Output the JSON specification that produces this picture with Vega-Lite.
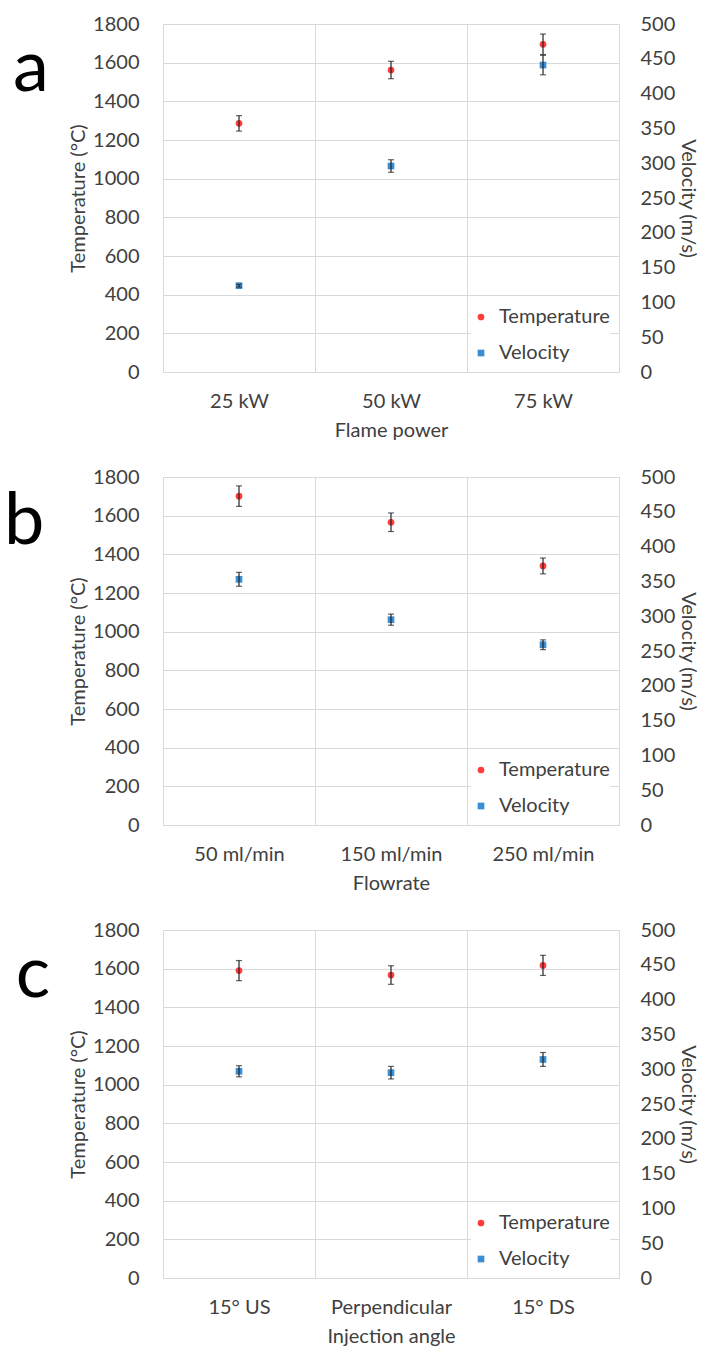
{
  "$schema": "https://vega.github.io/schema/vega-lite/v6.json",
  "padding": {"left": 3, "top": 13, "right": 0, "bottom": 0},
  "background": "white",
  "spacing": 25,
  "datasets": {
    "pts": [
      {"panel": "a", "cat": "25 kW", "series": "Temperature", "value": 1286, "err": 40},
      {"panel": "a", "cat": "50 kW", "series": "Temperature", "value": 1562, "err": 45},
      {"panel": "a", "cat": "75 kW", "series": "Temperature", "value": 1695, "err": 53},
      {"panel": "a", "cat": "25 kW", "series": "Velocity", "value": 124, "err": 2},
      {"panel": "a", "cat": "50 kW", "series": "Velocity", "value": 296, "err": 9},
      {"panel": "a", "cat": "75 kW", "series": "Velocity", "value": 441, "err": 14},
      {"panel": "b", "cat": "50 ml/min", "series": "Temperature", "value": 1701, "err": 53},
      {"panel": "b", "cat": "150 ml/min", "series": "Temperature", "value": 1566, "err": 48},
      {"panel": "b", "cat": "250 ml/min", "series": "Temperature", "value": 1340, "err": 41},
      {"panel": "b", "cat": "50 ml/min", "series": "Velocity", "value": 353, "err": 10},
      {"panel": "b", "cat": "150 ml/min", "series": "Velocity", "value": 295, "err": 8},
      {"panel": "b", "cat": "250 ml/min", "series": "Velocity", "value": 259, "err": 7},
      {"panel": "c", "cat": "15° US", "series": "Temperature", "value": 1590, "err": 52},
      {"panel": "c", "cat": "Perpendicular", "series": "Temperature", "value": 1567, "err": 48},
      {"panel": "c", "cat": "15° DS", "series": "Temperature", "value": 1617, "err": 52},
      {"panel": "c", "cat": "15° US", "series": "Velocity", "value": 297, "err": 8},
      {"panel": "c", "cat": "Perpendicular", "series": "Velocity", "value": 295, "err": 9},
      {"panel": "c", "cat": "15° DS", "series": "Velocity", "value": 314, "err": 10}
    ]
  },
  "data": {"name": "pts"},
  "vconcat": [
    {
      "title": {"text": "a"},
      "width": 456, "height": 348,
      "transform": [{"filter": "datum.panel === 'a'"}],
      "encoding": {"x": {"field": "cat", "type": "nominal", "sort": ["25 kW", "50 kW", "75 kW"], "title": "Flame power"}},
      "layer": [
        {
          "transform": [{"filter": "datum.series === 'Temperature'"}],
          "layer": [
            {"mark": {"type": "point", "filled": true, "size": 45, "opacity": 1},
             "encoding": {
               "y": {"field": "value", "type": "quantitative", "scale": {"domain": [0, 1800]}, "axis": {"orient": "left", "values": [0,200,400,600,800,1000,1200,1400,1600,1800], "format": "d", "grid": true, "labelOverlap": false, "labelPadding": 24, "titlePadding": 4}, "title": "Temperature (°C)"},
               "color": {"field": "series", "type": "nominal", "scale": {"domain": ["Temperature", "Velocity"], "range": ["#ff3b3b", "#3a8fd4"]}, "legend": {"title": null}},
               "shape": {"field": "series", "type": "nominal", "scale": {"domain": ["Temperature", "Velocity"], "range": ["circle", "square"]}, "legend": {"title": null}}
             }},
            {"mark": {"type": "errorbar", "ticks": {"size": 6}, "color": "#222222", "thickness": 1.2},
             "encoding": {"y": {"field": "value", "type": "quantitative", "scale": {"domain": [0, 1800]}, "axis": {"orient": "left", "values": [0,200,400,600,800,1000,1200,1400,1600,1800], "format": "d", "grid": true, "labelOverlap": false, "labelPadding": 24, "titlePadding": 4}, "title": "Temperature (°C)"}, "yError": {"field": "err"}}}
          ]
        },
        {
          "transform": [{"filter": "datum.series === 'Velocity'"}],
          "layer": [
            {"mark": {"type": "point", "filled": true, "size": 45, "opacity": 1},
             "encoding": {
               "y": {"field": "value", "type": "quantitative", "scale": {"domain": [0, 500]}, "axis": {"orient": "right", "values": [0,50,100,150,200,250,300,350,400,450,500], "format": "d", "grid": false, "labelOverlap": false, "labelPadding": 21, "titlePadding": 3}, "title": "Velocity (m/s)"},
               "color": {"field": "series", "type": "nominal", "legend": {"title": null}},
               "shape": {"field": "series", "type": "nominal", "legend": {"title": null}}
             }},
            {"mark": {"type": "errorbar", "ticks": {"size": 6}, "color": "#222222", "thickness": 1.2},
             "encoding": {"y": {"field": "value", "type": "quantitative", "scale": {"domain": [0, 500]}, "axis": {"orient": "right", "values": [0,50,100,150,200,250,300,350,400,450,500], "format": "d", "grid": false, "labelOverlap": false, "labelPadding": 21, "titlePadding": 3}, "title": "Velocity (m/s)"}, "yError": {"field": "err"}}}
          ]
        }
      ],
      "resolve": {"scale": {"y": "independent"}}
    },
    {
      "title": {"text": "b"},
      "width": 456, "height": 348,
      "transform": [{"filter": "datum.panel === 'b'"}],
      "encoding": {"x": {"field": "cat", "type": "nominal", "sort": ["50 ml/min", "150 ml/min", "250 ml/min"], "title": "Flowrate"}},
      "layer": [
        {
          "transform": [{"filter": "datum.series === 'Temperature'"}],
          "layer": [
            {"mark": {"type": "point", "filled": true, "size": 45, "opacity": 1},
             "encoding": {
               "y": {"field": "value", "type": "quantitative", "scale": {"domain": [0, 1800]}, "axis": {"orient": "left", "values": [0,200,400,600,800,1000,1200,1400,1600,1800], "format": "d", "grid": true, "labelOverlap": false, "labelPadding": 24, "titlePadding": 4}, "title": "Temperature (°C)"},
               "color": {"field": "series", "type": "nominal", "scale": {"domain": ["Temperature", "Velocity"], "range": ["#ff3b3b", "#3a8fd4"]}, "legend": {"title": null}},
               "shape": {"field": "series", "type": "nominal", "scale": {"domain": ["Temperature", "Velocity"], "range": ["circle", "square"]}, "legend": {"title": null}}
             }},
            {"mark": {"type": "errorbar", "ticks": {"size": 6}, "color": "#222222", "thickness": 1.2},
             "encoding": {"y": {"field": "value", "type": "quantitative", "scale": {"domain": [0, 1800]}, "axis": {"orient": "left", "values": [0,200,400,600,800,1000,1200,1400,1600,1800], "format": "d", "grid": true, "labelOverlap": false, "labelPadding": 24, "titlePadding": 4}, "title": "Temperature (°C)"}, "yError": {"field": "err"}}}
          ]
        },
        {
          "transform": [{"filter": "datum.series === 'Velocity'"}],
          "layer": [
            {"mark": {"type": "point", "filled": true, "size": 45, "opacity": 1},
             "encoding": {
               "y": {"field": "value", "type": "quantitative", "scale": {"domain": [0, 500]}, "axis": {"orient": "right", "values": [0,50,100,150,200,250,300,350,400,450,500], "format": "d", "grid": false, "labelOverlap": false, "labelPadding": 21, "titlePadding": 3}, "title": "Velocity (m/s)"},
               "color": {"field": "series", "type": "nominal", "legend": {"title": null}},
               "shape": {"field": "series", "type": "nominal", "legend": {"title": null}}
             }},
            {"mark": {"type": "errorbar", "ticks": {"size": 6}, "color": "#222222", "thickness": 1.2},
             "encoding": {"y": {"field": "value", "type": "quantitative", "scale": {"domain": [0, 500]}, "axis": {"orient": "right", "values": [0,50,100,150,200,250,300,350,400,450,500], "format": "d", "grid": false, "labelOverlap": false, "labelPadding": 21, "titlePadding": 3}, "title": "Velocity (m/s)"}, "yError": {"field": "err"}}}
          ]
        }
      ],
      "resolve": {"scale": {"y": "independent"}}
    },
    {
      "title": {"text": "c"},
      "width": 456, "height": 348,
      "transform": [{"filter": "datum.panel === 'c'"}],
      "encoding": {"x": {"field": "cat", "type": "nominal", "sort": ["15° US", "Perpendicular", "15° DS"], "title": "Injection angle"}},
      "layer": [
        {
          "transform": [{"filter": "datum.series === 'Temperature'"}],
          "layer": [
            {"mark": {"type": "point", "filled": true, "size": 45, "opacity": 1},
             "encoding": {
               "y": {"field": "value", "type": "quantitative", "scale": {"domain": [0, 1800]}, "axis": {"orient": "left", "values": [0,200,400,600,800,1000,1200,1400,1600,1800], "format": "d", "grid": true, "labelOverlap": false, "labelPadding": 24, "titlePadding": 4}, "title": "Temperature (°C)"},
               "color": {"field": "series", "type": "nominal", "scale": {"domain": ["Temperature", "Velocity"], "range": ["#ff3b3b", "#3a8fd4"]}, "legend": {"title": null}},
               "shape": {"field": "series", "type": "nominal", "scale": {"domain": ["Temperature", "Velocity"], "range": ["circle", "square"]}, "legend": {"title": null}}
             }},
            {"mark": {"type": "errorbar", "ticks": {"size": 6}, "color": "#222222", "thickness": 1.2},
             "encoding": {"y": {"field": "value", "type": "quantitative", "scale": {"domain": [0, 1800]}, "axis": {"orient": "left", "values": [0,200,400,600,800,1000,1200,1400,1600,1800], "format": "d", "grid": true, "labelOverlap": false, "labelPadding": 24, "titlePadding": 4}, "title": "Temperature (°C)"}, "yError": {"field": "err"}}}
          ]
        },
        {
          "transform": [{"filter": "datum.series === 'Velocity'"}],
          "layer": [
            {"mark": {"type": "point", "filled": true, "size": 45, "opacity": 1},
             "encoding": {
               "y": {"field": "value", "type": "quantitative", "scale": {"domain": [0, 500]}, "axis": {"orient": "right", "values": [0,50,100,150,200,250,300,350,400,450,500], "format": "d", "grid": false, "labelOverlap": false, "labelPadding": 21, "titlePadding": 3}, "title": "Velocity (m/s)"},
               "color": {"field": "series", "type": "nominal", "legend": {"title": null}},
               "shape": {"field": "series", "type": "nominal", "legend": {"title": null}}
             }},
            {"mark": {"type": "errorbar", "ticks": {"size": 6}, "color": "#222222", "thickness": 1.2},
             "encoding": {"y": {"field": "value", "type": "quantitative", "scale": {"domain": [0, 500]}, "axis": {"orient": "right", "values": [0,50,100,150,200,250,300,350,400,450,500], "format": "d", "grid": false, "labelOverlap": false, "labelPadding": 21, "titlePadding": 3}, "title": "Velocity (m/s)"}, "yError": {"field": "err"}}}
          ]
        }
      ],
      "resolve": {"scale": {"y": "independent"}}
    }
  ],
  "resolve": {"scale": {"color": "independent", "shape": "independent"}},
  "config": {
    "font": "Lato",
    "view": {"stroke": "#d9d9d9"},
    "axis": {
      "labelFont": "Lato", "titleFont": "Lato",
      "labelFontSize": 20, "titleFontSize": 20,
      "labelColor": "#404040", "titleColor": "#404040",
      "titleFontWeight": "normal",
      "labelOverlap": false,
      "domain": false, "ticks": false,
      "gridColor": "#d9d9d9", "gridWidth": 1
    },
    "axisX": {"labelAngle": 0, "tickBand": "extent", "grid": true, "labelPadding": 19, "titlePadding": 9},
    "legend": {
      "orient": "bottom-right", "offset": 9, "padding": 0,
      "labelFont": "Lato", "labelFontSize": 20, "labelColor": "#404040",
      "symbolSize": 45, "symbolStrokeWidth": 0, "rowPadding": 16, "labelOffset": 8,
      "fillColor": "white"
    },
    "title": {
      "orient": "left", "angle": 0, "anchor": "end", "align": "right", "baseline": "top",
      "fontSize": 72, "fontWeight": "normal", "font": "Lato", "color": "#000000",
      "offset": -16, "dy": 20
    }
  }
}
